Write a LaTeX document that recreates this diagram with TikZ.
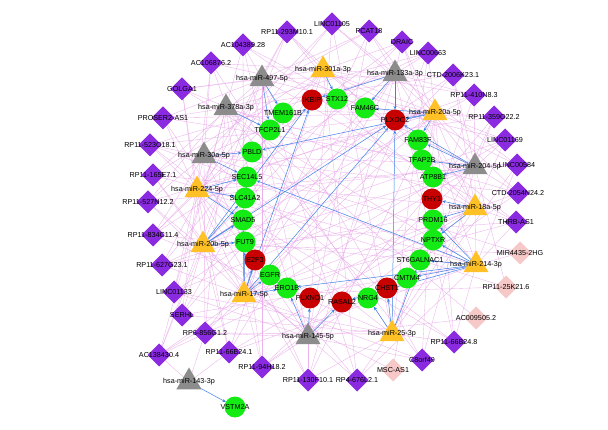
\documentclass[tikz,border=0pt]{standalone}
\usepackage{fontspec}
\setmainfont{Liberation Sans}
\usetikzlibrary{shapes.geometric,arrows.meta}
\pgfdeclarelayer{bg}
\pgfsetlayers{bg,main}
\definecolor{lncp}{RGB}{138,43,226}
\definecolor{lncq}{RGB}{247,200,200}
\definecolor{mirgray}{RGB}{140,140,140}
\definecolor{mirorange}{RGB}{255,193,37}
\definecolor{mgr}{RGB}{20,235,20}
\definecolor{mrd}{RGB}{200,0,0}
\definecolor{pinkedge}{RGB}{232,165,232}
\definecolor{blueedge}{RGB}{60,130,230}
\begin{document}
\begin{tikzpicture}[x=1pt,y=-1pt, font=\fontsize{7.2}{8}\selectfont,
 base/.style={draw=none, inner sep=0pt, outer sep=0pt},
 lnc/.style={base, diamond, fill=lncp, minimum width=23pt, minimum height=23pt},
 lncpink/.style={lnc, fill=lncq},
 mirg/.style={base, regular polygon, regular polygon sides=3, fill=mirgray, minimum size=29pt},
 miro/.style={mirg, fill=mirorange},
 mgreen/.style={base, circle, fill=mgr, minimum size=21pt},
 mred/.style={mgreen, fill=mrd},
 ceedge/.style={draw=pinkedge, line width=0.35pt, opacity=0.85},
 tgt/.style={draw=blueedge, line width=0.5pt, -{Stealth[length=3.5pt,width=3pt]}},
]
\useasboundingbox (0,0) rectangle (608,430);
% lncRNAs (purple)
\node[lnc,label=center:{RP11-293M10.1}] (l1) at (287,32) {};
\node[lnc,label=center:{LINC01105}] (l2) at (332,24) {};
\node[lnc,label=center:{PCAT18}] (l3) at (369,31) {};
\node[lnc,label=center:{DRAIC}] (l4) at (402,42) {};
\node[lnc,label=center:{LINC00663}] (l5) at (428,53) {};
\node[lnc,label=center:{CTD-2006K23.1}] (l6) at (453,75) {};
\node[lnc,label=center:{RP11-410N8.3}] (l7) at (474,95) {};
\node[lnc,label=center:{RP11-359O22.2}] (l8) at (494,117) {};
\node[lnc,label=center:{LINC01169}] (l9) at (505,140) {};
\node[lnc,label=center:{LINC00584}] (l10) at (517,165) {};
\node[lnc,label=center:{CTD-2054N24.2}] (l11) at (518,193) {};
\node[lnc,label=center:{THRB-AS1}] (l12) at (516,222) {};
\node[lnc,label=center:{RP11-66B24.8}] (l13) at (454,342) {};
\node[lnc,label=center:{C8orf49}] (l14) at (422,360) {};
\node[lnc,label=center:{RP4-676L2.1}] (l15) at (357,380) {};
\node[lnc,label=center:{RP11-130F10.1}] (l16) at (308,380) {};
\node[lnc,label=center:{RP11-94H18.2}] (l17) at (262,367) {};
\node[lnc,label=center:{RP11-66B24.1}] (l18) at (229,352) {};
\node[lnc,label=center:{RP6-856G1.2}] (l19) at (205,333) {};
\node[lnc,label=center:{AC138430.4}] (l20) at (159,355) {};
\node[lnc,label=center:{SERHL}] (l21) at (182,315) {};
\node[lnc,label=center:{LINC01133}] (l22) at (174,292) {};
\node[lnc,label=center:{RP11-627G23.1}] (l23) at (162,265) {};
\node[lnc,label=center:{RP11-834C11.4}] (l24) at (153,235) {};
\node[lnc,label=center:{RP11-527N12.2}] (l25) at (148,202) {};
\node[lnc,label=center:{RP11-165E7.1}] (l26) at (153,175) {};
\node[lnc,label=center:{RP11-523O18.1}] (l27) at (150,145) {};
\node[lnc,label=center:{PROSER2-AS1}] (l28) at (163,118) {};
\node[lnc,label=center:{GOLGA1}] (l29) at (182,89) {};
\node[lnc,label=center:{AC106876.2}] (l30) at (211,63) {};
\node[lnc,label=center:{AC104389.28}] (l31) at (243,45) {};
% lncRNAs (pink)
\node[lncpink,label=center:{MIR4435-2HG}] (q1) at (520,253) {};
\node[lncpink,label=center:{RP11-25K21.6}] (q2) at (506,287) {};
\node[lncpink,label=center:{AC009505.2}] (q3) at (476,318) {};
\node[lncpink,label=center:{MSC-AS1}] (q4) at (393,370) {};
% miRNAs
\node[mirg,label=center:{hsa-miR-497-5p}] (m1) at (262,79) {};
\node[mirg,label=center:{hsa-miR-378a-3p}] (m2) at (226,108) {};
\node[mirg,label=center:{hsa-miR-30a-5p}] (m3) at (204,156) {};
\node[miro,label=center:{hsa-miR-224-5p}] (m4) at (197,190) {};
\node[miro,label=center:{hsa-miR-20b-5p}] (m5) at (203,245) {};
\node[miro,label=center:{hsa-miR-17-5p}] (m6) at (244,295) {};
\node[mirg,label=center:{hsa-miR-145-5p}] (m7) at (308,337) {};
\node[miro,label=center:{hsa-miR-25-3p}] (m8) at (392,334) {};
\node[miro,label=center:{hsa-miR-214-3p}] (m9) at (476,265) {};
\node[miro,label=center:{hsa-miR-18a-5p}] (m10) at (475,208) {};
\node[mirg,label=center:{hsa-miR-204-5p}] (m11) at (475,167) {};
\node[miro,label=center:{hsa-miR-20a-5p}] (m12) at (435,113) {};
\node[mirg,label=center:{hsa-miR-133a-3p}] (m13) at (395,74) {};
\node[miro,label=center:{hsa-miR-301a-3p}] (m14) at (323,70) {};
\node[mirg,label=center:{hsa-miR-143-3p}] (m15) at (189,382) {};
% mRNAs
\node[mgreen,label=center:{STX12}] (stx) at (337,99) {};
\node[mgreen,label=center:{FAM46C}] (fam46) at (365,108) {};
\node[mgreen,label=center:{TMEM161B}] (tmem) at (283,113) {};
\node[mgreen,label=center:{TFCP2L1}] (tfcp) at (270,130) {};
\node[mgreen,label=center:{PBLD}] (pbld) at (252,152) {};
\node[mgreen,label=center:{SEC14L5}] (sec) at (247,177) {};
\node[mgreen,label=center:{SLC41A2}] (slc) at (245,198) {};
\node[mgreen,label=center:{SMAD5}] (smad) at (243,220) {};
\node[mgreen,label=center:{FUT9}] (fut) at (245,242) {};
\node[mgreen,label=center:{EGFR}] (egfr) at (270,275) {};
\node[mgreen,label=center:{ERO1B}] (ero) at (287,288) {};
\node[mgreen,label=center:{NRG4}] (nrg) at (368,298) {};
\node[mgreen,label=center:{CMTM4}] (cmtm) at (407,278) {};
\node[mgreen,label=center:{ST6GALNAC1}] (st6) at (420,260) {};
\node[mgreen,label=center:{NPTXR}] (nptxr) at (433,240) {};
\node[mgreen,label=center:{PRDM16}] (prdm) at (433,220) {};
\node[mgreen,label=center:{ATP8B1}] (atp) at (433,177) {};
\node[mgreen,label=center:{TFAP2B}] (tfap) at (422,160) {};
\node[mgreen,label=center:{FAM83F}] (fam83) at (418,140) {};
\node[mgreen,label=center:{VSTM2A}] (vstm) at (235,407) {};
\node[mred,label=center:{IKBIP}] (ikbip) at (312,100) {};
\node[mred,label=center:{PLXDC2}] (plxdc) at (395,120) {};
\node[mred,label=center:{THY1}] (thy) at (432,199) {};
\node[mred,label=center:{CHST1}] (chst) at (387,288) {};
\node[mred,label=center:{RASAL2}] (rasal) at (342,302) {};
\node[mred,label=center:{PLXND1}] (plxnd) at (310,298) {};
\node[mred,label=center:{E2F3}] (e2f) at (255,260) {};
\begin{pgfonlayer}{bg}
\fill[white] (0,0) rectangle (608,430);
% lncRNA -- miRNA
\foreach \i in {1,...,31}{
  \foreach \k in {0,...,5}{
    \pgfmathtruncatemacro{\j}{mod(3*\i+5*\k,14)+1}
    \draw[ceedge] (l\i) -- (m\j);
  }
}
\foreach \a/\b in {q1/m9,q1/m5,q1/m3,q2/m6,q2/m4,q2/m11,q3/m2,q3/m7,q4/m12,q4/m6,l20/m15,l18/m15,l19/m15}
  \draw[ceedge] (\a) -- (\b);
% miRNA -> mRNA
\foreach \a/\b in {m1/tmem,m1/tfcp,m2/tfcp,m3/sec,m3/pbld,
  m4/sec,m4/slc,m4/smad,m5/slc,m5/smad,m5/fut,m5/ikbip,m5/plxdc,
  m6/e2f,m6/egfr,m6/fut,m6/smad,m6/ero,m6/ikbip,m6/plxdc,
  m7/plxnd,m7/rasal,m7/ero,m8/nrg,m8/chst,m8/plxdc,m8/st6,
  m9/nptxr,m9/st6,m9/cmtm,m9/prdm,m9/sec,m9/rasal,m9/ero,
  m10/thy,m10/prdm,m10/nptxr,m11/fam83,m11/tfap,m11/atp,m11/plxdc,
  m12/plxdc,m12/fam46,m12/pbld,m12/fam83,m13/fam46,m13/plxdc,m13/ikbip,
  m14/stx,m15/vstm}
  \draw[tgt] (\a) -- (\b);
\end{pgfonlayer}
\end{tikzpicture}
\end{document}
